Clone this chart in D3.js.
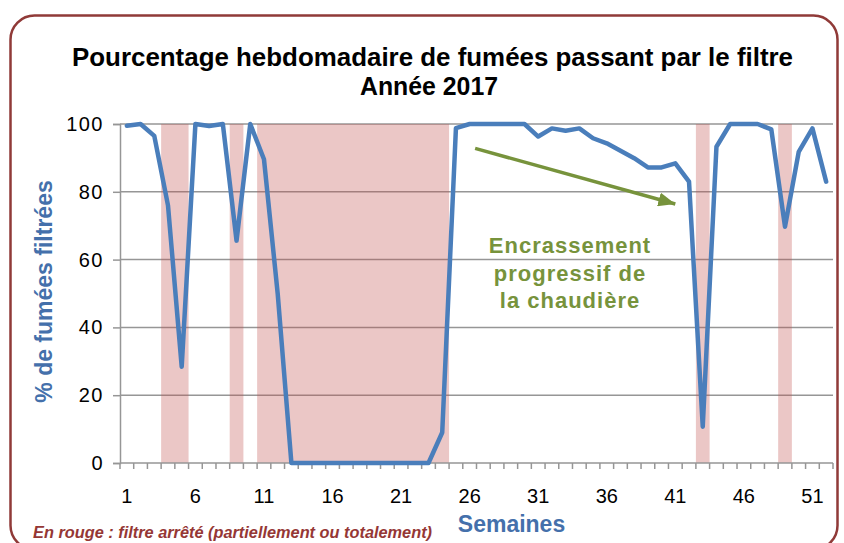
<!DOCTYPE html>
<html>
<head>
<meta charset="utf-8">
<script src="https://cdn.jsdelivr.net/npm/d3@7"></script>
<style>
  html, body { margin: 0; padding: 0; background: #fff; }
  svg { display: block; font-family: "Liberation Sans", Arial, sans-serif; }
</style>
</head>
<body>
<svg id="chart" width="844" height="543"></svg>
<script>
// ---- Data ----
const weeks = d3.range(1, 53);
const filteredPct = [
  99.5, 100, 96.5, 76, 28.4, 100, 99.4, 100, 65.6, 100,
  89.6, 50, 0, 0, 0, 0, 0, 0, 0, 0,
  0, 0, 0, 9, 98.8, 100, 100, 100, 100, 100,
  96.3, 98.7, 98, 98.7, 95.8, 94.3, 92.1, 89.9, 87.2, 87.2,
  88.4, 83, 10.7, 93.3, 100, 100, 100, 98.4, 69.7, 91.8,
  98.7, 83
];
const stoppedWeeks = [4, 5, 9, 11, 12, 13, 14, 15, 16, 17, 18, 19, 20, 21, 22, 23, 24, 43, 49];
const xTickLabels = [1, 6, 11, 16, 21, 26, 31, 36, 41, 46, 51];
const yTickValues = [0, 20, 40, 60, 80, 100];
const titleLines = ["Pourcentage hebdomadaire de fumées passant par le filtre", "Année 2017"];
const annotationLines = ["Encrassement", "progressif de", "la chaudière"];
// arrow annotation endpoints in data units (week, %)
const arrowFrom = [26.4, 92.8];
const arrowTo = [41.0, 76.4];

// ---- Layout ----
const svg = d3.select("#chart");
const plot = { left: 120, right: 833, top: 124, bottom: 463 };

const x = d3.scaleLinear().domain([0.5, weeks.length + 0.5]).range([plot.left, plot.right]);
const y = d3.scaleLinear().domain([0, 100]).range([plot.bottom, plot.top]);

// Frame
svg.append("rect")
  .attr("x", 10.5).attr("y", 15.5).attr("width", 827).attr("height", 534)
  .attr("rx", 24).attr("ry", 24)
  .attr("fill", "#fff").attr("stroke", "#903A38").attr("stroke-width", 2.5);

// Gridlines
svg.append("g").selectAll("line")
  .data(yTickValues.filter(v => v > 0))
  .join("line")
  .attr("x1", plot.left).attr("x2", plot.right)
  .attr("y1", d => y(d)).attr("y2", d => y(d))
  .attr("stroke", "#969696").attr("stroke-width", 1.5);

// Stopped-filter bands (merge consecutive weeks into runs)
const runs = [];
stoppedWeeks.forEach(w => {
  const last = runs[runs.length - 1];
  if (last && last[1] === w - 1) last[1] = w; else runs.push([w, w]);
});
svg.append("g").selectAll("rect")
  .data(runs)
  .join("rect")
  .attr("x", d => x(d[0] - 0.5))
  .attr("width", d => x(d[1] + 0.5) - x(d[0] - 0.5))
  .attr("y", y(100))
  .attr("height", y(0) - y(100))
  .attr("fill", "#C0504D").attr("fill-opacity", 0.32);

// Axes
const yAxis = d3.axisLeft(y).tickValues(yTickValues).tickSize(7).tickPadding(9);
const gy = svg.append("g").attr("transform", `translate(${plot.left},0)`).call(yAxis);
gy.select(".domain").attr("stroke", "#969696").attr("stroke-width", 1.5);
gy.selectAll(".tick line").attr("stroke", "#969696").attr("stroke-width", 1.5);
gy.selectAll(".tick text").attr("font-size", 20).attr("fill", "#000")
  .attr("letter-spacing", 1.5).attr("font-family", "Liberation Sans, Arial, sans-serif");

// x axis line + ticks at category boundaries
const gx = svg.append("g");
gx.append("line")
  .attr("x1", plot.left).attr("x2", plot.right)
  .attr("y1", y(0)).attr("y2", y(0))
  .attr("stroke", "#969696").attr("stroke-width", 1.5);
gx.selectAll("line.tick")
  .data(d3.range(0, weeks.length + 1))
  .join("line").attr("class", "tick")
  .attr("x1", d => x(d + 0.5)).attr("x2", d => x(d + 0.5))
  .attr("y1", y(0)).attr("y2", y(0) + 6)
  .attr("stroke", "#969696").attr("stroke-width", 1.5);
gx.selectAll("text")
  .data(xTickLabels)
  .join("text")
  .attr("x", d => x(d)).attr("y", y(0) + 40)
  .attr("text-anchor", "middle").attr("font-size", 20).attr("fill", "#000")
  .text(d => d);

// Line
const line = d3.line().x((d, i) => x(weeks[i])).y(d => y(d));
svg.append("path")
  .datum(filteredPct)
  .attr("d", line)
  .attr("fill", "none").attr("stroke", "#4A7EBB").attr("stroke-width", 4.5)
  .attr("stroke-linejoin", "round").attr("stroke-linecap", "round");

// Arrow annotation
const defs = svg.append("defs");
defs.append("marker")
  .attr("id", "arrowhead").attr("markerUnits", "userSpaceOnUse")
  .attr("markerWidth", 18).attr("markerHeight", 14)
  .attr("refX", 17).attr("refY", 7).attr("orient", "auto")
  .append("path").attr("d", "M0,0 L17,7 L0,14 Z").attr("fill", "#77933C");
svg.append("line")
  .attr("x1", x(arrowFrom[0])).attr("y1", y(arrowFrom[1]))
  .attr("x2", x(arrowTo[0])).attr("y2", y(arrowTo[1]))
  .attr("stroke", "#77933C").attr("stroke-width", 3.5)
  .attr("marker-end", "url(#arrowhead)");

svg.append("g").selectAll("text")
  .data(annotationLines)
  .join("text")
  .attr("x", 570).attr("y", (d, i) => 253 + i * 27.5)
  .attr("text-anchor", "middle").attr("font-size", 22).attr("font-weight", "bold")
  .attr("letter-spacing", 1)
  .attr("fill", "#77933C")
  .text(d => d);

// Title
svg.append("g").selectAll("text")
  .data(titleLines)
  .join("text")
  .attr("x", (d, i) => i === 0 ? 432.5 : 429)
  .attr("y", (d, i) => 66 + i * 29)
  .attr("text-anchor", "middle").attr("font-size", 26).attr("font-weight", "bold")
  .attr("fill", "#000")
  .attr("textLength", (d, i) => i === 0 ? 721 : 138)
  .attr("lengthAdjust", "spacingAndGlyphs")
  .text(d => d);

// Axis titles
svg.append("text")
  .attr("transform", "translate(52,291.5) rotate(-90)")
  .attr("text-anchor", "middle").attr("font-size", 23).attr("font-weight", "bold")
  .attr("fill", "#4470AB")
  .text("% de fumées filtrées");

svg.append("text")
  .attr("x", 511.5).attr("y", 532)
  .attr("text-anchor", "middle").attr("font-size", 23).attr("font-weight", "bold")
  .attr("fill", "#4470AB")
  .text("Semaines");

// Note
svg.append("text")
  .attr("x", 33).attr("y", 538)
  .attr("font-size", 16).attr("font-weight", "bold").attr("font-style", "italic")
  .attr("fill", "#953735")
  .attr("textLength", 399).attr("lengthAdjust", "spacingAndGlyphs")
  .text("En rouge : filtre arrêté (partiellement ou totalement)");
</script>
</body>
</html>
